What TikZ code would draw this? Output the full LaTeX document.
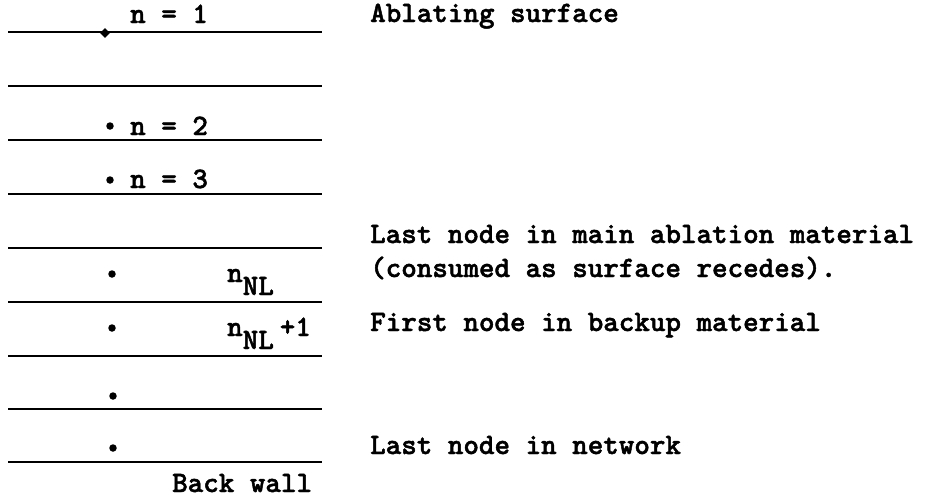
\documentclass[tikz,border=0pt]{standalone}
\usepackage{fontspec}
\usetikzlibrary{shapes.geometric}
\newfontfamily\typed{lmmonolt10-bold}[Extension=.otf,FakeBold=1.6]
\begin{document}
\begin{tikzpicture}[x=1pt,y=-1pt,
  layer/.style={line width=2pt},
  nodedot/.style={circle,fill,inner sep=0pt,minimum size=7.5pt},
  surfdot/.style={diamond,fill,inner sep=0pt,minimum size=10pt},
  txt/.style={font=\typed\fontsize{29.6}{34}\selectfont,inner sep=0pt,anchor=base west},
]
\useasboundingbox (0,0) rectangle (934,499);

% interfaces between the slabs
\foreach \y [count=\i] in {32,86,140,194,248,302,356,409,462} {
  \coordinate (l\i) at (8,\y);
  \coordinate (r\i) at (322,\y);
  \draw[layer] (l\i) -- (r\i);
}

% node points
\node[surfdot] (d1) at (105,33) {};
\node[nodedot] (d2) at (110,126) {};
\node[nodedot] (d3) at (110,180) {};
\node[nodedot] (dnl) at (112,274) {};
\node[nodedot] (dnl1) at (112,328) {};
\node[nodedot] (dx) at (113,396) {};
\node[nodedot] (dlast) at (113,448) {};

% node labels
\node[txt] (n1) at (130,23) {n = 1};
\node[txt] (n2) at (130,135) {n = 2};
\node[txt] (n3) at (130,188) {n = 3};
\node[txt] (nnl) at (227,282) {n\raisebox{-13pt}{NL}};
\node[txt] (nnl1) at (227,336) {n\raisebox{-13pt}{NL}\hspace{6pt}+1};
\node[txt] (back) at (172,492) {Back wall};

% descriptions
\node[txt] (abl) at (370,22) {Ablating surface};
\node[txt] (main) at (370,243) {Last node in main ablation material};
\node[txt] (cons) at (370,277) {(consumed as surface recedes).};
\node[txt] (first) at (370,331) {First node in backup material};
\node[txt] (lastn) at (370,454) {Last node in network};
\end{tikzpicture}
\end{document}
